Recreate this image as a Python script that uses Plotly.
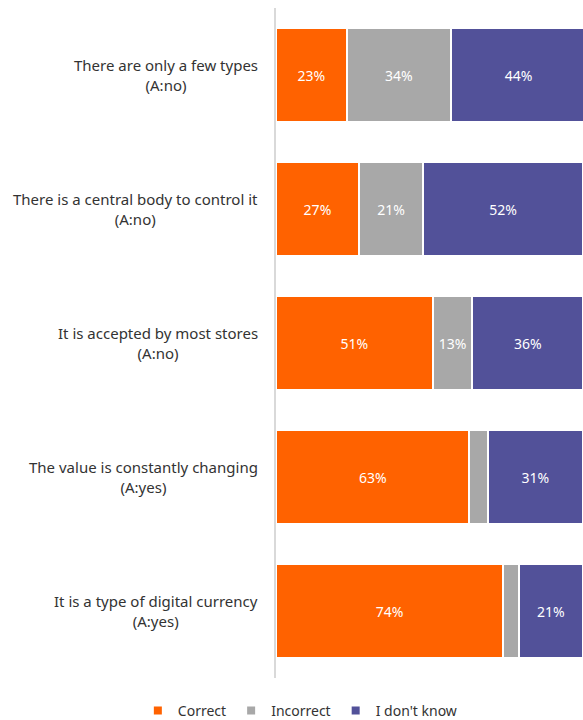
import plotly.graph_objects as go

categories = [
    "There are only a few types<br>(A:no)",
    "There is a central body to control it<br>(A:no)",
    "It is accepted by most stores<br>(A:no)",
    "The value is constantly changing<br>(A:yes)",
    "It is a type of digital currency<br>(A:yes)",
]
correct = [23, 27, 51, 63, 74]
incorrect = [34, 21, 13, 6, 5]
dont_know = [44, 52, 36, 31, 21]

series = [
    ("Correct", correct, "#FF6200"),
    ("Incorrect", incorrect, "#A8A8A8"),
    ("I don't know", dont_know, "#525199"),
]

fig = go.Figure()
for name, vals, color in series:
    fig.add_trace(go.Bar(
        y=categories, x=vals, name=name, orientation="h",
        marker=dict(color=color, line=dict(color="white", width=2)),
        text=[f"{v}%" if v >= 10 else "" for v in vals],
        textposition="inside", insidetextanchor="middle",
        textfont=dict(color="white", size=14, family="Noto Sans"),
        hoverinfo="skip", showlegend=False,
    ))
# legend proxies with small square symbols
for name, vals, color in series:
    fig.add_trace(go.Scatter(
        x=[None], y=[None], mode="markers", name=name,
        marker=dict(symbol="square", size=8, color=color),
        showlegend=True, hoverinfo="skip",
    ))

# category labels, centered lines, right-aligned block
for cat in categories:
    fig.add_annotation(
        x=0, xref="paper", y=cat, yref="y", text=cat,
        xanchor="right", yanchor="middle", align="center",
        xshift=-16, showarrow=False,
        font=dict(size=15, color="#333333", family="Noto Sans"),
    )

fig.update_layout(
    barmode="stack",
    bargap=0.3,
    width=583, height=720,
    margin=dict(l=276, r=0, t=8, b=42, autoexpand=False),
    paper_bgcolor="white", plot_bgcolor="white",
    font=dict(family="Noto Sans", size=14, color="#333333"),
    showlegend=True,
    legend=dict(orientation="h", xref="paper", yref="paper",
                x=-0.45, xanchor="left", y=-0.049, yanchor="middle",
                font=dict(size=14, color="#333333"), traceorder="normal",
                itemwidth=30, tracegroupgap=0),
    xaxis=dict(range=[0, 100], showgrid=False, showticklabels=False, zeroline=False,
               fixedrange=True),
    yaxis=dict(autorange="reversed", showgrid=False, showline=True, linecolor="#D9D9D9",
               linewidth=2, ticks="", showticklabels=False),
)

fig.write_html("out.html")
